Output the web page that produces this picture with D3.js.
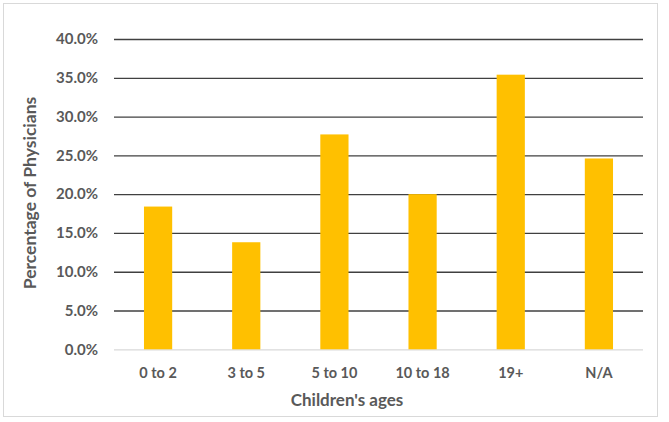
<!DOCTYPE html>
<html><head><meta charset="utf-8">
<script src="https://cdn.jsdelivr.net/npm/d3@7"></script>
<style>body{margin:0;background:#fff}text{font-family:Lato,"Open Sans",sans-serif;font-weight:bold;fill:#595959}</style>
</head><body><svg id="c" width="669" height="422"></svg>
<script>
const categories = ["0 to 2","3 to 5","5 to 10","10 to 18","19+","N/A"];
const values = [18.4, 13.8, 27.7, 20.0, 35.4, 24.6];
const yTicks = [0,5,10,15,20,25,30,35,40];

const svg = d3.select("#c");
svg.append("rect").attr("x",3.5).attr("y",3.5).attr("width",654).attr("height",413)
  .attr("fill","#fff").attr("stroke","#d9d9d9");
const m = {l:114, r:643, t:39, b:349.3};
const x = d3.scaleBand().domain(categories).range([m.l,m.r]).paddingInner(0.68).paddingOuter(0.34);
const y = d3.scaleLinear().domain([0,40]).range([m.b,m.t]);

const ya = svg.append("g").attr("transform",`translate(${m.l},0)`)
  .call(d3.axisLeft(y).tickValues(yTicks).tickSize(-(m.r-m.l)).tickPadding(16).tickFormat(d=>d.toFixed(1)+"%"));
ya.select(".domain").remove();
ya.selectAll(".tick line").attr("stroke",d=>d===0?"#d9d9d9":"#404040").attr("stroke-width",1.3);
ya.selectAll(".tick text").attr("font-size",15).attr("fill","#595959");

svg.selectAll(".bar").data(values).join("rect").attr("class","bar")
  .attr("x",(d,i)=>x(categories[i])).attr("width",x.bandwidth())
  .attr("y",d=>y(d)).attr("height",d=>y(0)-y(d)).attr("fill","#FFC000");

const xa = svg.append("g").attr("transform",`translate(0,${m.b})`)
  .call(d3.axisBottom(x).tickSize(0).tickPadding(18));
xa.select(".domain").remove();
xa.selectAll(".tick text").attr("font-size",14.5).attr("fill","#595959");

svg.append("text").attr("x",347).attr("y",406).attr("text-anchor","middle").attr("font-size",17).text("Children's ages");
svg.append("text").attr("transform","translate(36,193) rotate(-90)").attr("text-anchor","middle").attr("font-size",17.5).text("Percentage of Physicians");
</script></body></html>
